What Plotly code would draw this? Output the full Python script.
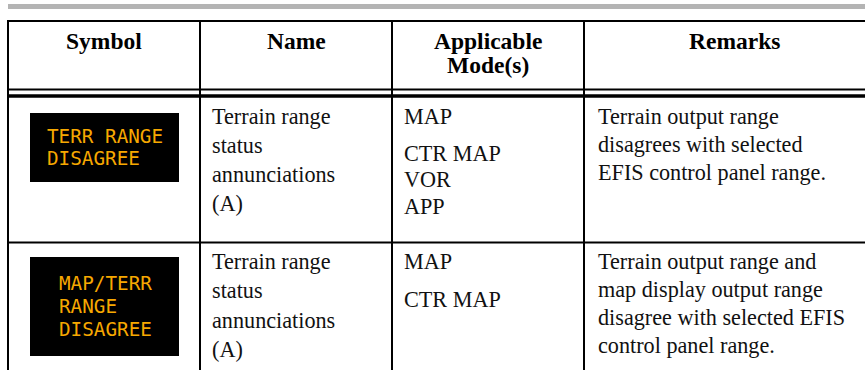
import plotly.graph_objects as go

# ---------------- content ----------------
header_lines = [["Symbol"], ["Name"], ["Applicable", "Mode(s)"], ["Remarks"]]
symbol_lines = [["TERR RANGE", "DISAGREE"],
                ["MAP/TERR", "RANGE", "DISAGREE"]]
name_lines = [["Terrain range", "status", "annunciations", "(A)"],
              ["Terrain range", "status", "annunciations", "(A)"]]
mode_paragraphs = [[["MAP"], ["CTR MAP", "VOR", "APP"]],
                   [["MAP"], ["CTR MAP"]]]
remark_lines = [["Terrain output range", "disagrees with selected",
                 "EFIS control panel range."],
                ["Terrain output range and", "map display output range",
                 "disagree with selected EFIS", "control panel range."]]

# ---------------- layout ----------------
W, H = 865, 370
col_edges = [8, 200, 392, 584, 884]
table_top = 21
rule_thin_y = 89.5
rule_thick_y = 96
row_rule_y = [242.5]
row_first_baseline = [123.5, 269]
header_baselines = [48.5, 72.5]
symbol_box_x = (30, 179)
symbol_box_y = [(113, 182), (257, 356)]
symbol_line_step = 22.6
name_step = 29.3
mode_step = 26.2
mode_par_gap = 11.5
remark_step = 28
text_pad = [0, 11, 11, 13]

SERIF = "Liberation Serif"
MONO = "DejaVu Sans Mono"
HEAD_SIZE = 23.5
BODY_SIZE = 22.2
SYM_SIZE = 19.3
SYM_CHAR_W = 0.602
ORANGE = "#F7A800"
INK = "#111111"

fig = go.Figure()
shapes = []
ann = []


def line(x0, y0, x1, y1, w, color="black"):
    shapes.append(dict(type="line", xref="x", yref="y", x0=x0, y0=y0, x1=x1, y1=y1,
                       line=dict(color=color, width=w)))


def text(x, baseline, s, size, family, color=INK, bold=False, xanchor="left", asc=0.3375):
    ann.append(dict(x=x, y=baseline - asc * size, xref="x", yref="y",
                    text=("<b>%s</b>" % s) if bold else s,
                    showarrow=False, xanchor=xanchor, yanchor="middle", borderpad=0,
                    font=dict(family=family, size=size, color=color)))


# top gray bar
shapes.append(dict(type="rect", xref="x", yref="y", x0=col_edges[0], x1=W, y0=4, y1=9,
                   fillcolor="#b4b4b4", line=dict(width=0)))

# table rules
line(col_edges[0], table_top, W, table_top, 2)
line(col_edges[0], table_top - 1, col_edges[0], H, 2)
for xe in col_edges[1:4]:
    line(xe, table_top, xe, H, 2)
line(col_edges[0], rule_thin_y, W, rule_thin_y, 2)
line(col_edges[0], rule_thick_y, W, rule_thick_y, 3.5)
for ry in row_rule_y:
    line(col_edges[0], ry, W, ry, 2)

# header
for c, lines_ in enumerate(header_lines):
    cx = (col_edges[c] + col_edges[c + 1]) / 2
    for i, s in enumerate(lines_):
        text(cx, header_baselines[i], s, HEAD_SIZE, SERIF, color="black", bold=True,
             xanchor="center")

# body rows
for r in range(len(name_lines)):
    b0 = row_first_baseline[r]
    # symbol box
    y0, y1 = symbol_box_y[r]
    shapes.append(dict(type="rect", xref="x", yref="y", x0=symbol_box_x[0], x1=symbol_box_x[1],
                       y0=y0, y1=y1, fillcolor="black", line=dict(width=0)))
    sl = symbol_lines[r]
    block_w = max(len(s) for s in sl) * SYM_CHAR_W * SYM_SIZE
    left = (symbol_box_x[0] + symbol_box_x[1]) / 2 - block_w / 2
    cy = (y0 + y1) / 2
    n = len(sl)
    for i, s in enumerate(sl):
        yc = cy + (i - (n - 1) / 2) * symbol_line_step
        ann.append(dict(x=left, y=yc, xref="x", yref="y", text=s, showarrow=False,
                        xanchor="left", yanchor="middle", borderpad=0,
                        font=dict(family=MONO, size=SYM_SIZE, color=ORANGE)))
    # name
    for i, s in enumerate(name_lines[r]):
        text(col_edges[1] + text_pad[1], b0 + i * name_step, s, BODY_SIZE, SERIF)
    # modes
    b = b0
    for p, par in enumerate(mode_paragraphs[r]):
        if p > 0:
            b += mode_par_gap
        for s in par:
            text(col_edges[2] + text_pad[2], b, s, BODY_SIZE, SERIF)
            b += mode_step
    # remarks
    for i, s in enumerate(remark_lines[r]):
        text(col_edges[3] + text_pad[3], b0 + i * remark_step, s, BODY_SIZE, SERIF)

fig.update_layout(
    width=W, height=H, margin=dict(l=0, r=0, t=0, b=0),
    paper_bgcolor="white", plot_bgcolor="white",
    xaxis=dict(range=[0, W], visible=False, fixedrange=True),
    yaxis=dict(range=[H, 0], visible=False, fixedrange=True),
    shapes=shapes, annotations=ann, showlegend=False,
)
fig.write_html("out.html", config={"displayModeBar": False},
               post_script="document.body.style.margin='0';document.body.style.padding='0';")
